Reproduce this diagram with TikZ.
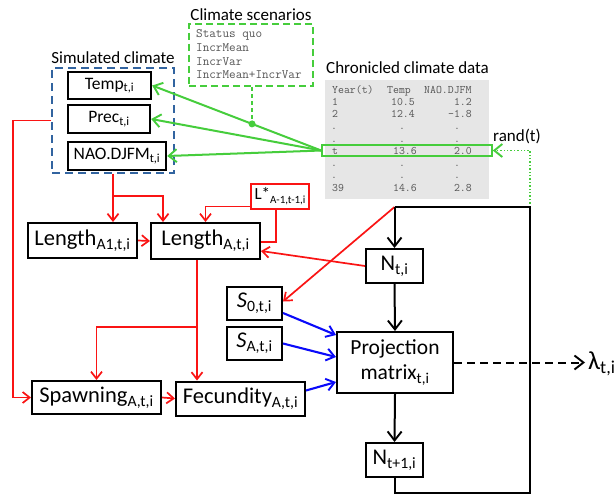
\documentclass[tikz,border=0pt]{standalone}
\usepackage{fontspec}
\setmainfont{Carlito}
\usetikzlibrary{arrows.meta,calc}
\definecolor{cgreen}{RGB}{70,205,60}
\definecolor{cblue}{RGB}{10,10,250}
\definecolor{cred}{RGB}{250,20,20}
\definecolor{cdash}{RGB}{50,100,160}
\definecolor{cgray}{RGB}{230,230,230}
\definecolor{ctext}{RGB}{85,85,85}
\newcommand{\sbs}[1]{\textsubscript{#1}}
\begin{document}
\begin{tikzpicture}[x=1pt,y=-1pt,
  box/.style={draw,line width=2.1pt,inner sep=0pt,align=center},
  clim/.style={box,line width=2.4pt,font=\fontsize{17.5}{20}\selectfont},
  big/.style={box,line width=2pt,font=\fontsize{22.5}{26}\selectfont},
  ttl/.style={inner sep=0pt,font=\fontsize{17}{20}\selectfont},
  mono/.style={inner sep=0pt,text=ctext,font=\ttfamily\fontsize{11.5}{13}\selectfont},
  smono/.style={inner sep=0pt,text=ctext,font=\ttfamily\fontsize{12.8}{14}\selectfont,anchor=base west},
  rtip/.style={-{Straight Barb[length=7pt,width=11pt,line width=1.7pt]}},
  gtip/.style={-{Straight Barb[length=8pt,width=13pt,line width=1.9pt]}},
  btip/.style={-{Straight Barb[length=8pt,width=12pt,line width=1.9pt]}},
  ktip/.style={-{Straight Barb[length=9pt,width=14pt,line width=1.9pt]}},
  redl/.style={cred,line width=1.7pt},
  greenl/.style={cgreen,line width=2pt},
  bluel/.style={cblue,line width=2.1pt},
  blk/.style={black,line width=2pt}
]
\useasboundingbox[fill=white] (0,0) rectangle (615,495);

% ---- Climate scenarios
\node[ttl] (scent) at (251,15) {Climate scenarios};
\node[draw=cgreen,line width=1.9pt,dash pattern=on 7pt off 4pt,minimum width=124pt,minimum height=62pt,inner sep=0pt] (scen) at (251,55) {};
\node[smono] (s1) at (196,37.5) {Status quo};
\node[smono] (s2) at (196,51.5) {IncrMean};
\node[smono] (s3) at (196,65.5) {IncrVar};
\node[smono] (s4) at (196,78.5) {IncrMean+IncrVar};

% ---- Simulated climate
\node[ttl] (simt) at (113,58) {Simulated climate};
\node[draw=cdash,line width=1.9pt,dash pattern=on 8pt off 5pt,minimum width=122pt,minimum height=105pt,inner sep=0pt] (sim) at (113,120.5) {};
\node[clim,minimum width=83pt,minimum height=27pt] (temp) at (109.5,85.5) {Temp\sbs{t,i}};
\node[clim,minimum width=82pt,minimum height=28pt] (prec) at (109,119) {Prec\sbs{t,i}};
\node[clim,minimum width=98pt,minimum height=28pt] (nao) at (117,156) {NAO.DJFM\sbs{t,i}};

% ---- Chronicled climate data
\node[ttl,anchor=west] (chront) at (326,68) {Chronicled climate data};
\node[fill=cgray,minimum width=164pt,minimum height=119pt,inner sep=0pt] (chron) at (407,139.5) {};
\node[draw=cgreen,line width=1.6pt,minimum width=170pt,minimum height=11pt,inner sep=0pt] (row) at (407,150.5) {};
\node[mono,anchor=base west] (h1) at (332,93) {Year(t)};
\node[mono,anchor=base west] (h2) at (387,93) {Temp};
\node[mono,anchor=base west] (h3) at (424,93) {NAO.DJFM};
\node[mono,anchor=base west] (a1) at (332,105.25) {1};
\node[mono,anchor=base east] (a2) at (415,105.25) {10.5};
\node[mono,anchor=base east] (a3) at (472,105.25) {1.2};
\node[mono,anchor=base west] (b1) at (332,117.5) {2};
\node[mono,anchor=base east] (b2) at (415,117.5) {12.4};
\node[mono,anchor=base east] (b3) at (472,117.5) {-1.8};
\node[mono,anchor=base] (c1) at (334,129.75) {.};
\node[mono,anchor=base] (c2) at (402,129.75) {.};
\node[mono,anchor=base] (c3) at (457,129.75) {.};
\node[mono,anchor=base] (d1) at (334,142) {.};
\node[mono,anchor=base] (d2) at (402,142) {.};
\node[mono,anchor=base] (d3) at (457,142) {.};
\node[mono,anchor=base west] (e1) at (332,154.25) {t};
\node[mono,anchor=base east] (e2) at (417,154.25) {13.6};
\node[mono,anchor=base east] (e3) at (472,154.25) {2.0};
\node[mono,anchor=base] (f1) at (334,166.5) {.};
\node[mono,anchor=base] (f2) at (402,166.5) {.};
\node[mono,anchor=base] (f3) at (457,166.5) {.};
\node[mono,anchor=base] (g1) at (334,178.75) {.};
\node[mono,anchor=base] (g2) at (402,178.75) {.};
\node[mono,anchor=base] (g3) at (457,178.75) {.};
\node[mono,anchor=base west] (k1) at (332,191) {39};
\node[mono,anchor=base east] (k2) at (417,191) {14.6};
\node[mono,anchor=base east] (k3) at (472,191) {2.8};
\node[ttl] (rand) at (517,136) {rand(t)};

% ---- Length / L*
\node[big,minimum width=109pt,minimum height=35pt] (lenA1) at (82.5,240.5) {Length\sbs{A1,t,i}};
\node[big,minimum width=109pt,minimum height=36pt] (lenA) at (205.5,241) {Length\sbs{A,t,i}};
\node[draw=cred,line width=1.7pt,inner sep=0pt,minimum width=58pt,minimum height=25pt,font=\fontsize{17}{18}\selectfont] (Lstar) at (280,196.5) {L*{\fontsize{11}{12}\selectfont\raisebox{-4pt}{A-1,t-1,i}}};

% ---- S, Spawning, Fecundity
\node[big,minimum width=55pt,minimum height=33pt] (S0) at (254.5,303.5) {\itshape S\upshape\sbs{0,t,i}};
\node[big,minimum width=55pt,minimum height=33pt] (SA) at (254.5,343.5) {\itshape S\upshape\sbs{A,t,i}};
\node[big,minimum width=129pt,minimum height=33pt] (spawn) at (96.5,397.5) {Spawning\sbs{A,t,i}};
\node[big,minimum width=129pt,minimum height=34pt] (fec) at (240.5,398.5) {Fecundity\sbs{A,t,i}};

% ---- Population
\node[big,minimum width=57pt,minimum height=34pt] (Nt) at (394.5,266) {N\sbs{t,i}};
\node[big,minimum width=116pt,minimum height=61pt,font=\fontsize{21.5}{25}\selectfont] (proj) at (395,362.5) {Projection\\matrix\sbs{t,i}};
\node[big,minimum width=57pt,minimum height=34pt] (Nt1) at (394.5,460) {N\sbs{t+1,i}};
\node[inner sep=3pt,anchor=west,font=\fontsize{26}{28}\selectfont] (lam) at (585,364) {λ\sbs{t,i}};

\coordinate (tl) at (394.5,207);
\coordinate (tr) at (530,207);
\coordinate (brc) at (530,493);
\coordinate (br) at (113,196);
\coordinate (by) at (0,327);

% ---- green connectors
\coordinate (dot) at ($(row.west)!0.409!(temp.east)$);
\draw[greenl,gtip] (row.west) -- (temp.east);
\draw[greenl,gtip] (row.west) -- (prec.east);
\draw[greenl,gtip] (row.west) -- (nao.east);
\draw[cgreen,line width=1.6pt,dash pattern=on 4pt off 3pt] (dot |- scen.south) -- (dot);
\fill[cgreen] (dot) circle (3.5pt);
\draw[cgreen,line width=1.4pt,dotted,gtip] (tr) -- (tr |- row.east) -- (row.east);

% ---- red connectors
\draw[redl,rtip] (sim.west) -- ++(-38,0) |- (spawn.west);
\draw[redl,rtip] (sim.south) -- (sim.south |- lenA1.north);
\draw[redl,rtip] (br) -| ([xshift=-42.5pt]lenA.north);
\draw[redl,rtip] (lenA1.east) -- (lenA.west);
\draw[redl] ([yshift=-1pt]lenA.east) -| ([xshift=-4pt]Lstar.south);
\draw[redl,rtip] ([yshift=-10pt]Lstar.west) -| (lenA.north);
\coordinate (vx) at ([xshift=-8.5pt]lenA.south);
\draw[redl,rtip] (vx) -- (vx |- fec.north);
\draw[redl,rtip] (vx |- by) -| (spawn.north);
\draw[redl,rtip] (spawn.east) -- (fec.west);
\draw[redl,rtip] (Nt.west) -- ([yshift=-10pt]lenA.east);
\draw[redl,rtip] (tl) -- ([yshift=2pt]S0.east);

% ---- blue connectors
\draw[bluel,btip] ([yshift=-9.5pt]S0.east) -- ([yshift=27.5pt]proj.west);
\draw[bluel,btip] (SA.east) -- ([yshift=5.5pt]proj.west);
\draw[bluel,btip] ([yshift=8pt]fec.east) -- ([yshift=-19.5pt]proj.west);

% ---- black connectors
\draw[blk,ktip] (tl) -- (Nt.north);
\draw[blk,ktip] (Nt.south) -- (proj.north);
\draw[blk,ktip] (proj.south) -- (Nt1.north);
\draw[blk] (Nt1.south) |- (brc) -- (tr) -- (tl);
\draw[blk,dash pattern=on 8pt off 5pt,ktip] (proj.east) -- (proj.east -| lam.west);
\end{tikzpicture}
\end{document}
